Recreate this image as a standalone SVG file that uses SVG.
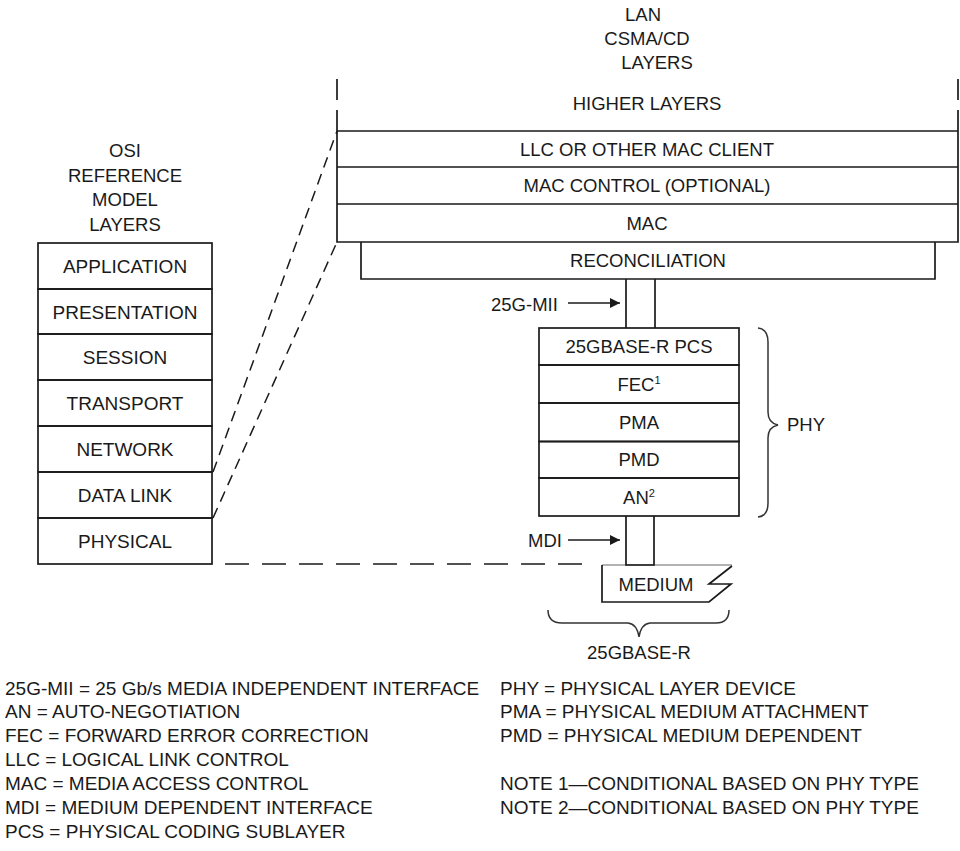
<svg xmlns="http://www.w3.org/2000/svg" width="960" height="851" viewBox="0 0 960 851">
<defs>
<style>
text{font-family:"Liberation Sans",Arial,sans-serif;font-size:18.5px;fill:#1a1a1a}
.c{text-anchor:middle}
.o{font-size:19px}
.lg{font-size:19px}
.ln{stroke:#1a1a1a;stroke-width:1.7;fill:none}
.dash{stroke:#1a1a1a;stroke-width:1.5;fill:none;stroke-dasharray:11 7}
.hd{stroke:#1a1a1a;stroke-width:1.7;fill:none;stroke-dasharray:24 13}
.br{stroke:#333;stroke-width:1.5;fill:none}
</style>
<marker id="ah" viewBox="0 0 10 10" refX="10" refY="5" markerWidth="10" markerHeight="10" markerUnits="userSpaceOnUse" orient="auto">
<path d="M0,0 L10,5 L0,10 Z" fill="#1a1a1a"/>
</marker>
</defs>
<rect width="960" height="851" fill="#fff"/>

<g id="lan-title">
<text class="c" x="643" y="21">LAN</text>
<text class="c" x="647" y="45">CSMA/CD</text>
<text class="c" x="657" y="69">LAYERS</text>
</g>

<g id="osi-title">
<text class="c" x="125" y="157">OSI</text>
<text class="c" x="125" y="181.5">REFERENCE</text>
<text class="c" x="125" y="206">MODEL</text>
<text class="c" x="125" y="230.5">LAYERS</text>
</g>

<g id="higher-layers">
<line class="ln" x1="337" y1="79" x2="337" y2="100"/>
<line class="ln" x1="958" y1="79" x2="958" y2="100"/>
<text class="c" x="647" y="110">HIGHER LAYERS</text>
</g>
<g id="llc">
<path class="ln" d="M337,110 V167 M958,110 V167 M337,131 H958"/>
<text class="c" x="647" y="156">LLC OR OTHER MAC CLIENT</text>
</g>
<g id="mac-control">
<path class="ln" d="M337,167 V204 M958,167 V204 M337,167 H958"/>
<text class="c" x="647" y="192">MAC CONTROL (OPTIONAL)</text>
</g>
<g id="mac">
<path class="ln" d="M337,204 V242 H958 V204 M337,204 H958"/>
<text class="c" x="647" y="229.5">MAC</text>
</g>
<g id="reconciliation">
<path class="ln" d="M361,242 V279 H935 V242"/>
<text class="c" x="648" y="267">RECONCILIATION</text>
</g>

<g id="osi-application"><rect class="ln" x="38" y="243" width="174" height="46"/><text class="c o" x="125" y="273">APPLICATION</text></g>
<g id="osi-presentation"><rect class="ln" x="38" y="289" width="174" height="45"/><text class="c o" x="125" y="318.5">PRESENTATION</text></g>
<g id="osi-session"><rect class="ln" x="38" y="334" width="174" height="46"/><text class="c o" x="125" y="364">SESSION</text></g>
<g id="osi-transport"><rect class="ln" x="38" y="380" width="174" height="46"/><text class="c o" x="125" y="410">TRANSPORT</text></g>
<g id="osi-network"><rect class="ln" x="38" y="426" width="174" height="46"/><text class="c o" x="125" y="456">NETWORK</text></g>
<g id="osi-datalink"><rect class="ln" x="38" y="472" width="174" height="46"/><text class="c o" x="125" y="502">DATA LINK</text></g>
<g id="osi-physical"><rect class="ln" x="38" y="518" width="174" height="46"/><text class="c o" x="125" y="548">PHYSICAL</text></g>

<g id="pcs"><rect class="ln" x="539" y="328" width="200" height="37"/><text class="c" x="639" y="353">25GBASE-R PCS</text></g>
<g id="fec"><rect class="ln" x="539" y="365" width="200" height="38"/><text class="c" x="639" y="391">FEC<tspan dy="-7" font-size="11">1</tspan></text></g>
<g id="pma"><rect class="ln" x="539" y="403" width="200" height="38.5"/><text class="c" x="639" y="428.5">PMA</text></g>
<g id="pmd"><rect class="ln" x="539" y="441.5" width="200" height="36.5"/><text class="c" x="639" y="466">PMD</text></g>
<g id="an"><rect class="ln" x="539" y="478" width="200" height="38"/><text class="c" x="639" y="504">AN<tspan dy="-7" font-size="11">2</tspan></text></g>

<g id="phy-brace">
<path class="br" d="M758,328 Q768,329 768,342 L768,412 Q768,423 778,425 Q768,427 768,438 L768,503 Q768,516 758,517"/>
<text x="787" y="431">PHY</text>
</g>

<g id="medium">
<line x1="602" y1="565" x2="732" y2="565" stroke="#9a9a9a" stroke-width="1.7"/>
<path class="ln" d="M602,565 V602 H709 L731,584 H709 L732,566"/>
<text class="c" x="656" y="591">MEDIUM</text>
</g>

<g id="base-brace">
<path class="br" d="M548,610 Q548,623 562,623 L628,623 Q637,624 639,637 Q641,624 650,623 L716,623 Q729,623 729,610"/>
<text class="c" x="639" y="659">25GBASE-R</text>
</g>

<g id="mii-label"><text x="491" y="311">25G-MII</text></g>
<g id="mdi-label"><text x="528" y="547">MDI</text></g>

<g id="connectors">
<line class="dash" x1="213" y1="472" x2="337" y2="131"/>
<line class="dash" x1="213" y1="518" x2="337" y2="242"/>
<line class="hd" x1="582" y1="564" x2="212" y2="564"/>
<path class="ln" d="M626,279 V328 M655,279 V328"/>
<path class="ln" d="M626,516 V565 H654 V516"/>
<line class="ln" x1="568" y1="303" x2="620" y2="303" marker-end="url(#ah)"/>
<line class="ln" x1="568" y1="540" x2="620" y2="540" marker-end="url(#ah)"/>
</g>

<g id="legend">
<text class="lg" x="5" y="694.5">25G-MII = 25 Gb/s MEDIA INDEPENDENT INTERFACE</text>
<text class="lg" x="5" y="718">AN = AUTO-NEGOTIATION</text>
<text class="lg" x="5" y="742">FEC = FORWARD ERROR CORRECTION</text>
<text class="lg" x="5" y="766">LLC = LOGICAL LINK CONTROL</text>
<text class="lg" x="5" y="790">MAC = MEDIA ACCESS CONTROL</text>
<text class="lg" x="5" y="814">MDI = MEDIUM DEPENDENT INTERFACE</text>
<text class="lg" x="5" y="838">PCS = PHYSICAL CODING SUBLAYER</text>
<text class="lg" x="500" y="694.5">PHY = PHYSICAL LAYER DEVICE</text>
<text class="lg" x="500" y="718">PMA = PHYSICAL MEDIUM ATTACHMENT</text>
<text class="lg" x="500" y="742">PMD = PHYSICAL MEDIUM DEPENDENT</text>
<text class="lg" x="500" y="790">NOTE 1—CONDITIONAL BASED ON PHY TYPE</text>
<text class="lg" x="500" y="814">NOTE 2—CONDITIONAL BASED ON PHY TYPE</text>
</g>
</svg>
